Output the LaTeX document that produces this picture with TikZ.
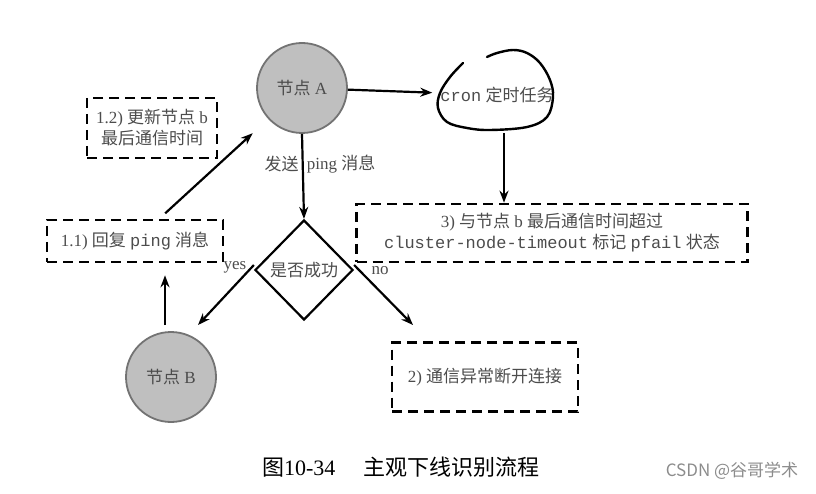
\documentclass[tikz,border=0pt]{standalone}
\usepackage{fontspec}
\setmainfont{Liberation Serif}
\setmonofont{Liberation Mono}
\newfontfamily\cjk{Noto Sans CJK SC}
\usetikzlibrary{arrows.meta,shapes.geometric,positioning}
\newcommand{\zh}[1]{{\cjk #1}}
\tikzset{
  >={Stealth[length=12pt,width=9pt]},
  txt/.style={text=black!70, font=\fontsize{17}{21}\selectfont, inner sep=0pt},
  host/.style={circle, draw=black!55, line width=1.8pt, fill=black!25, minimum size=90pt, txt},
  dbox/.style={draw=black, line width=2.6pt, dash pattern=on 10pt off 6pt, align=center, txt},
  check/.style={diamond, draw=black, line width=2.2pt, minimum width=98pt, minimum height=100pt, txt},
  flow/.style={draw=black, line width=2.2pt, ->},
  blob/.style={draw=black, line width=2.4pt, line cap=round},
}
\begin{document}
\begin{tikzpicture}[x=1pt,y=-1pt]
\useasboundingbox (0,0) rectangle (816,494);
% the two hosts
\node[host] (A) at (302,88) {\zh{节点} A};
\node[host] (B) at (171,377) {\zh{节点} B};
% cron job, hand-drawn loop round it
\node[txt, inner xsep=8pt, inner ysep=30pt] (cron) at (497,95) {\texttt{cron} \zh{定时任务}};
\draw[blob] plot[smooth, tension=0.6] coordinates {(463,63) (450,77) (440,93) (438,108) (447,122) (467,128)
  (490,130) (527,127) (547,117) (553,97) (550,80) (540,63) (527,53) (513,50) (497,53) (487,57)};
% dashed steps
\node[dbox, minimum width=130pt, minimum height=60pt] (b12) at (152,128)
  {1.2) \zh{更新节点} b\\\zh{最后通信时间}};
\node[dbox, minimum width=176pt, minimum height=42pt] (b11) at (135,241)
  {1.1) \zh{回复} \texttt{ping} \zh{消息}};
\node[dbox, minimum width=391pt, minimum height=58pt] (b3) at (552,233)
  {3) \zh{与节点} b \zh{最后通信时间超过}\\\texttt{cluster-node-timeout} \zh{标记} \texttt{pfail} \zh{状态}};
\node[dbox, minimum width=186pt, minimum height=69pt] (b2) at (485,377)
  {2) \zh{通信异常断开连接}};
% decision
\node[check] (d) at (304,270) {\zh{是否成功}};
\node[txt] (yes) at (235,267) {yes};
\node[txt] (no) at (380,271) {no};
\coordinate (yestip) at (198,325);
\coordinate (notip) at (413,325);
% connectors
\draw[flow] (A) -- (cron);
\draw[flow] ([xshift=7pt]cron.south) -- ([xshift=7pt]cron.south |- b3.north);
\draw[flow] (A.south) -- (d.north)
  node[txt, pos=0.35, left=3pt] {\zh{发送}}
  node[txt, pos=0.35, right=3pt] {ping \zh{消息}};
\draw[flow] ([yshift=5pt]d.west) -- (yestip);
\draw[flow] ([yshift=5pt]d.east) -- (notip);
\draw[flow, shorten <=6pt, shorten >=12pt] ([xshift=-6pt]B.north) -- ([xshift=-6pt]B.north |- b11.south);
\draw[flow, shorten <=8pt, shorten >=21pt] (b11) -- (A);
% caption and mark
\node[font=\fontsize{22}{26}\selectfont] (cap) at (401,467) {\zh{图}10-34\hspace{1.3em}\zh{主观下线识别流程}};
\node[text=black!45, font=\cjk\fontsize{17}{20}\selectfont] (mark) at (732,471) {CSDN @谷哥学术};
\end{tikzpicture}
\end{document}
